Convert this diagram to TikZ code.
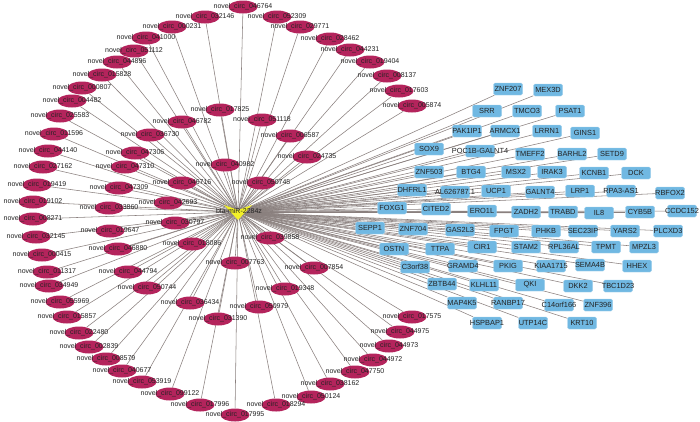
\documentclass[tikz,border=0pt]{standalone}
\usepackage{fontspec}
\setmainfont{Liberation Sans}
\usetikzlibrary{shapes.geometric}
\definecolor{rc}{RGB}{180,36,92}
\definecolor{bc}{RGB}{112,184,226}
\definecolor{bd}{RGB}{160,208,236}
\definecolor{ec}{RGB}{138,128,126}
\definecolor{tc}{RGB}{35,35,35}
\definecolor{yc}{RGB}{242,240,40}
\pgfdeclarelayer{bg}
\pgfsetlayers{bg,main}
\begin{document}
\begin{tikzpicture}[x=1pt,y=-1pt,
 rnode/.style={ellipse, fill=rc, minimum width=29pt, minimum height=13pt, inner sep=0pt},
 rlab/.style={text=tc, font=\fontsize{7}{7}\selectfont, inner sep=0pt},
 bnode/.style={rectangle, rounded corners=1.5pt, fill=bc, draw=bd, line width=0.4pt, minimum width=29pt, minimum height=12pt, inner sep=0pt},
 blab/.style={text=tc, font=\fontsize{7.4}{8}\selectfont, inner sep=0pt},
 edge/.style={draw=ec, line width=0.55pt}]
\useasboundingbox (0,0) rectangle (700,421);
\begin{pgfonlayer}{bg}\fill[white] (0,0) rectangle (700,421);\end{pgfonlayer}
\coordinate (c) at (238,212);
% red circRNA nodes
\foreach \n/\x/\y/\t in {
r1/243/7/046764, r2/205/17/032146, r3/277/17/052309, r4/300/27/029771,
r5/330/39/028462, r6/350/50/044231, r7/370/62/019404, r8/387/76/008137,
r9/399/91/017603, r10/412/106/005874, r11/172/27/000231, r12/146/38/041000,
r13/134/51/051112, r14/117/62/044896, r15/102/75/015828, r16/82/88/000807,
r17/72/101/004482, r18/60/116/025583, r19/54/134/011596, r20/48/151/044140,
r21/43/167/027162, r22/37/185/019419, r23/33/202/019102, r24/33/219/008271,
r25/36/237/032145, r26/42/255/000415, r27/47/272/011317, r28/49/286/034949,
r29/60/302/055969, r30/67/317/015857, r31/79/333/022480, r32/89/347/002839,
r33/106/359/008579, r34/122/371/040677, r35/142/382/053919, r36/170/394/099122,
r37/200/405/017996, r38/235/415/017995, r39/276/405/018294, r40/311/397/050124,
r41/330/384/038162, r42/355/372/047750, r43/373/360/044972, r44/389/346/044973,
r45/400/332/044975, r46/412/317/017575,
r47/220/110/017825, r48/182/122/046782, r49/262/120/051118, r50/290/136/006587,
r51/150/135/036730, r52/135/153/047306, r53/125/167/047310, r54/119/188/047309,
r55/109/208/033860, r56/110/231/019647, r57/118/249/046880, r58/128/272/044794,
r59/182/183/046716, r60/168/203/042693, r61/175/223/030797, r62/192/244/018086,
r63/225/165/040982, r64/261/183/050745, r65/307/157/024735, r66/270/238/039858,
r67/235/263/007763, r68/314/268/007854, r69/190/303/036434, r70/218/319/031390,
r71/259/307/050979, r72/285/289/019348, r73/147/288/050744}
{
  \node[rnode] (\n) at (\x,\y) {};
  \begin{pgfonlayer}{bg}\draw[edge] (c) -- (\n);\end{pgfonlayer}
}
% blue gene nodes
\foreach \n/\x/\y/\t in {
b1/508/89/ZNF207, b2/548/90/MEX3D, b3/487/111/SRR, b4/527/111/TMCO3,
b5/570/111/PSAT1, b6/467/131/PAK1IP1, b7/505/131/ARMCX1, b8/547/131/LRRN1,
b9/585/133/GINS1, b10/429/149/SOX9, b11/480/151/POC1B-GALNT4, b12/530/154/TMEFF2,
b13/572/154/BARHL2, b14/612/154/SETD9, b15/429/172/ZNF503, b16/471/172/BTG4,
b17/516/172/MSX2, b18/552/172/IRAK3, b19/594/173/KCNB1, b20/636/173/DCK,
b21/412/190/DHFRL1, b22/455/192/AL626787.1, b23/496/191/UCP1, b24/540/192/GALNT4,
b25/580/191/LRP1, b26/621/191/RPA3-AS1, b27/670/193/RBFOX2, b28/392/208/FOXG1,
b29/436/209/CITED2, b30/482/211/ERO1L, b31/526/212/ZADH2, b32/563/212/TRABD,
b33/599/213/IL8, b34/640/212/CYB5B, b35/682/211/CCDC152, b36/370/228/SEPP1,
b37/413/229/ZNF704, b38/460/230/GAS2L3, b39/504/231/FPGT, b40/546/231/PHKB,
b41/583/231/SEC23IP, b42/625/231/YARS2, b43/668/231/PLCXD3, b44/394/249/OSTN,
b45/440/249/TTPA, b46/482/247/CIR1, b47/526/247/STAM2, b48/564/247/RPL36AL,
b49/606/247/TPMT, b50/644/247/MPZL3, b51/415/267/C3orf38, b52/463/266/GRAMD4,
b53/508/266/PKIG, b54/551/266/KIAA1715, b55/590/265/SEMA4B, b56/637/266/HHEX,
b57/442/284/ZBTB44, b58/484/285/KLHL11, b59/530/285/QKI, b60/578/286/DKK2,
b61/618/286/TBC1D23, b62/462/303/MAP4K5, b63/508/303/RANBP17, b64/559/305/C14orf166,
b65/598/305/ZNF396, b66/487/323/HSPBAP1, b67/533/323/UTP14C, b68/582/323/KRT10}
{
  \node[bnode] (\n) at (\x,\y) {};
  \begin{pgfonlayer}{bg}\draw[edge] (c) -- (\n);\end{pgfonlayer}
}
% labels
\foreach \n/\t in {
r1/046764, r2/032146, r3/052309, r4/029771, r5/028462, r6/044231, r7/019404,
r8/008137, r9/017603, r10/005874, r11/000231, r12/041000, r13/051112, r14/044896,
r15/015828, r16/000807, r17/004482, r18/025583, r19/011596, r20/044140, r21/027162,
r22/019419, r23/019102, r24/008271, r25/032145, r26/000415, r27/011317, r28/034949,
r29/055969, r30/015857, r31/022480, r32/002839, r33/008579, r34/040677, r35/053919,
r36/099122, r37/017996, r38/017995, r39/018294, r40/050124, r41/038162, r42/047750,
r43/044972, r44/044973, r45/044975, r46/017575, r47/017825, r48/046782, r49/051118,
r50/006587, r51/036730, r52/047306, r53/047310, r54/047309, r55/033860, r56/019647,
r57/046880, r58/044794, r59/046716, r60/042693, r61/030797, r62/018086, r63/040982,
r64/050745, r65/024735, r66/039858, r67/007763, r68/007854, r69/036434, r70/031390,
r71/050979, r72/019348, r73/050744}
{
  \node[rlab] (l\n) at (\n) {novel\_circ\_\t};
}
\foreach \n/\t in {
b1/ZNF207, b2/MEX3D, b3/SRR, b4/TMCO3, b5/PSAT1, b6/PAK1IP1, b7/ARMCX1, b8/LRRN1,
b9/GINS1, b10/SOX9, b11/POC1B-GALNT4, b12/TMEFF2, b13/BARHL2, b14/SETD9, b15/ZNF503,
b16/BTG4, b17/MSX2, b18/IRAK3, b19/KCNB1, b20/DCK, b21/DHFRL1, b22/AL626787.1,
b23/UCP1, b24/GALNT4, b25/LRP1, b26/RPA3-AS1, b27/RBFOX2, b28/FOXG1, b29/CITED2,
b30/ERO1L, b31/ZADH2, b32/TRABD, b33/IL8, b34/CYB5B, b35/CCDC152, b36/SEPP1,
b37/ZNF704, b38/GAS2L3, b39/FPGT, b40/PHKB, b41/SEC23IP, b42/YARS2, b43/PLCXD3,
b44/OSTN, b45/TTPA, b46/CIR1, b47/STAM2, b48/RPL36AL, b49/TPMT, b50/MPZL3,
b51/C3orf38, b52/GRAMD4, b53/PKIG, b54/KIAA1715, b55/SEMA4B, b56/HHEX, b57/ZBTB44,
b58/KLHL11, b59/QKI, b60/DKK2, b61/TBC1D23, b62/MAP4K5, b63/RANBP17, b64/C14orf166,
b65/ZNF396, b66/HSPBAP1, b67/UTP14C, b68/KRT10}
{
  \node[blab] (l\n) at (\n) {\t};
}
% central miRNA node
\fill[yc] ([shift={(-14,-7)}]c) -- ([shift={(0,-2)}]c) -- ([shift={(14,-7)}]c) -- ([shift={(0,8)}]c) -- cycle;
\node[rlab] (ct) at ([shift={(1,-1)}]c) {bta-miR-2284z};
\end{tikzpicture}
\end{document}
